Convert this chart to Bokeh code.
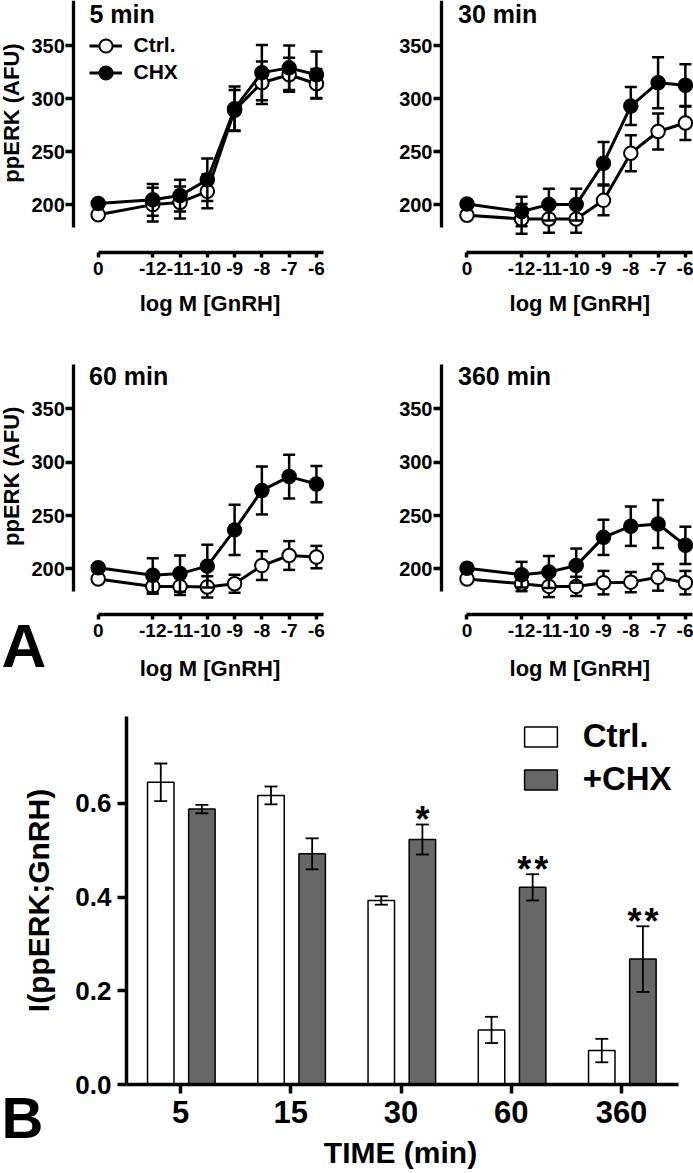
import numpy as np
from bokeh.plotting import figure
from bokeh.layouts import column, row
from bokeh.models import (Range1d, FixedTicker, Label, Legend, LegendItem, LinearAxis,
                          ColumnDataSource, PrintfTickFormatter)
from bokeh.embed import file_html
from bokeh.resources import INLINE

# ---------------- data: panel A (ppERK dose-response) ----------------
conc_labels = ["0", "-12", "-11", "-10", "-9", "-8", "-7", "-6"]
conc_x = [-14, -12, -11, -10, -9, -8, -7, -6]   # "0" (no GnRH) drawn left of -12

ctrl_5 = [190.5, 200, 202, 212.5, 289, 315, 322.5, 314]
ctrl_5_err = [0, 16, 15, 16, 19, 20, 16, 14]
chx_5 = [201, 204.5, 208.5, 223.5, 290.5, 324.5, 329, 322.5]
chx_5_err = [0, 15, 15, 20, 21, 26, 21, 22]

ctrl_30 = [190, 186.5, 186.5, 186.5, 204, 248.5, 269, 277]
ctrl_30_err = [0, 14, 13, 13, 14, 17, 17, 16]
chx_30 = [200.5, 193.5, 200, 200, 239, 293, 315, 312.5]
chx_30_err = [0, 14, 15, 15, 20, 18, 24, 20]

ctrl_60 = [190.5, 183.5, 183.5, 183, 186, 203, 212.5, 211]
ctrl_60_err = [0, 7, 8, 10, 8.5, 13.5, 13.5, 10.5]
chx_60 = [201, 194, 195.5, 202.5, 236.5, 273.5, 286.5, 279.5]
chx_60_err = [0, 16, 17, 20, 23.5, 22.5, 20.5, 17]

ctrl_360 = [190.5, 186, 183.5, 183.5, 187, 187.5, 192, 187]
ctrl_360_err = [0, 7, 10, 9, 11, 9.5, 12.5, 11]
chx_360 = [200.5, 194.5, 197, 203, 229.5, 240, 242, 222]
chx_360_err = [0, 12, 15, 16, 16.5, 18.5, 22.5, 17.5]

a_yticks = [200, 250, 300, 350]

# ---------------- data: panel B (information index) ----------------
times = ["5", "15", "30", "60", "360"]
ctrl_idx = [0.645, 0.617, 0.393, 0.117, 0.073]
ctrl_idx_err = [0.040, 0.019, 0.009, 0.028, 0.025]
chx_idx = [0.588, 0.4925, 0.523, 0.421, 0.268]
chx_idx_err = [0.009, 0.033, 0.032, 0.028, 0.070]
sig = ["", "", "*", "**", "**"]
b_yticks = [0.0, 0.2, 0.4, 0.6]

FONT = "Liberation Sans"


def style_axis(ax, size, tick_out, lw, standoff):
    ax.axis_line_width = lw
    ax.axis_line_color = "black"
    ax.major_tick_line_width = lw
    ax.major_tick_line_color = "black"
    ax.major_tick_out = tick_out
    ax.major_tick_in = 0
    ax.minor_tick_line_color = None
    ax.major_label_text_font = FONT
    ax.major_label_text_font_style = "bold"
    ax.major_label_text_font_size = size
    ax.major_label_text_color = "black"
    ax.major_label_standoff = standoff


def add_label(p, x, y, text, fs, vertical=False, align="left"):
    """(x, y): canvas position of the text baseline point; the label box is
    anchored at its middle, so shift by the middle-to-baseline distance."""
    d = 0.37 * fs
    if vertical:
        x, angle = x - d, np.pi / 2
    else:
        y, angle = y - d, 0.0
    p.add_layout(Label(x=x, y=y, x_units="canvas", y_units="canvas", text=text,
                       angle=angle, text_align=align, text_baseline="middle",
                       text_font=FONT, text_font_style="bold",
                       text_font_size=f"{fs}px", text_color="black"))


def base_fig(width, height, xr, yr):
    p = figure(width=width, height=height, x_range=Range1d(*xr), y_range=Range1d(*yr),
               x_axis_location=None, y_axis_location=None,
               output_backend="svg", toolbar_location=None, min_border=0)
    p.outline_line_color = None
    p.grid.visible = False
    p.background_fill_color = "white"
    p.border_fill_color = "white"
    return p


def series(p, y, err, fill):
    src = ColumnDataSource(dict(x=conc_x, y=y,
                                lo=[a - b for a, b in zip(y, err)],
                                hi=[a + b for a, b in zip(y, err)]))
    ln = p.line("x", "y", source=src, line_color="black", line_width=3)
    p.segment("x", "lo", "x", "hi", source=src, line_color="black", line_width=2.5)
    p.scatter("x", "lo", source=src, marker="dash", size=12, line_color="black", line_width=2.5)
    p.scatter("x", "hi", source=src, marker="dash", size=12, line_color="black", line_width=2.5)
    sc = p.scatter("x", "y", source=src, marker="circle", size=13.5,
                   fill_color=fill, line_color="black", line_width=2)
    return ln, sc


def panel(ctrl, ctrl_err, chx, chx_err, title, width, height, xr, yr,
          yaxis_x, ybounds, xaxis_y, title_xy, xlab_xy, ylab_xy=None, legend_h=None):
    p = base_fig(width, height, xr, yr)

    xa = LinearAxis(fixed_location=xaxis_y, ticker=FixedTicker(ticks=conc_x),
                    bounds=(-14, -5.75))
    xa.major_label_overrides = {float(v): t for v, t in zip(conc_x, conc_labels)}
    style_axis(xa, "19px", 5, 3.5, 5)
    p.add_layout(xa, "below")

    ya = LinearAxis(fixed_location=yaxis_x, ticker=FixedTicker(ticks=a_yticks), bounds=ybounds)
    style_axis(ya, "20px", 8, 3.3, 1)
    p.add_layout(ya, "left")

    lc, sc_c = series(p, ctrl, ctrl_err, "white")
    lh, sc_h = series(p, chx, chx_err, "black")

    if legend_h is not None:
        for lab, rends, ly in (("Ctrl.", [lc, sc_c], legend_h), ("CHX", [lh, sc_h], legend_h - 27)):
            lg = Legend(items=[LegendItem(label=lab, renderers=rends)], location=(88.5, ly),
                        glyph_width=33, glyph_height=33, label_standoff=12,
                        padding=0, margin=0, border_line_color=None,
                        background_fill_alpha=0, label_text_font=FONT,
                        label_text_font_style="bold", label_text_font_size="21px",
                        label_text_color="black")
            p.add_layout(lg)

    add_label(p, title_xy[0], title_xy[1], title, 25)
    add_label(p, xlab_xy[0], xlab_xy[1], "log M [GnRH]", 22, align="center")
    if ylab_xy is not None:
        add_label(p, ylab_xy[0], ylab_xy[1], "ppERK (AFU)", 22, vertical=True, align="center")
    return p


XR_L = (-17.581, -3.798)
XR_R = (-17.315, -5.703)
YR_1 = (56.7, 392.55)
YR_2 = (68.95, 399.16)

p1 = panel(ctrl_5, ctrl_5_err, chx_5, chx_5_err, "5 min", 376, 356, XR_L, YR_1,
           -14.894, (178.4, 392.55), 155.28, (89, 22.5), (209.5, 311.5),
           ylab_xy=(19.5, 112.5), legend_h=294.5)
p2 = panel(ctrl_30, ctrl_30_err, chx_30, chx_30_err, "30 min", 317, 356, XR_R, YR_1,
           -14.934, (178.4, 392.55), 155.28, (81.5, 22.5), (203.3, 311.5))
p3 = panel(ctrl_60, ctrl_60_err, chx_60, chx_60_err, "60 min", 376, 352, XR_L, YR_2,
           -14.894, (178.7, 391.4), 157.4, (88.5, 29), (209.5, 320),
           ylab_xy=(19.5, 119.8))
p4 = panel(ctrl_360, ctrl_360_err, chx_360, chx_360_err, "360 min", 317, 352, XR_R, YR_2,
           -14.934, (178.7, 391.4), 157.4, (81.5, 29), (203.3, 320))
add_label(p3, 1, 312, "A", 62)

# ---------------- panel B ----------------
xpos = np.arange(len(times))
p5 = base_fig(693, 465, (-1.6327, 4.653), (-0.1891, 0.8023))

bsrc = ColumnDataSource(dict(
    xc=xpos - 0.179, xh=xpos + 0.194, ctrl=ctrl_idx, chx=chx_idx,
    clo=[a - b for a, b in zip(ctrl_idx, ctrl_idx_err)],
    chi=[a + b for a, b in zip(ctrl_idx, ctrl_idx_err)],
    hlo=[a - b for a, b in zip(chx_idx, chx_idx_err)],
    hhi=[a + b for a, b in zip(chx_idx, chx_idx_err)]))

bc = p5.vbar(x="xc", top="ctrl", bottom=0, width=0.24, source=bsrc,
             fill_color="white", line_color="black", line_width=1.5)
bh = p5.vbar(x="xh", top="chx", bottom=0, width=0.24, source=bsrc,
             fill_color="#676767", line_color="black", line_width=1.5)
for xk, lo, hi in (("xc", "clo", "chi"), ("xh", "hlo", "hhi")):
    p5.segment(xk, lo, xk, hi, source=bsrc, line_color="black", line_width=1.8)
    p5.scatter(xk, lo, source=bsrc, marker="dash", size=13, line_color="black", line_width=1.8)
    p5.scatter(xk, hi, source=bsrc, marker="dash", size=13, line_color="black", line_width=1.8)

sx, sy, soff = [], [], []
for i, s in enumerate(sig):
    n = len(s)
    for k in range(n):
        sx.append(xpos[i] + 0.194)
        sy.append(chx_idx[i] + chx_idx_err[i])
        soff.append((k - (n - 1) / 2) * 17)
ssrc = ColumnDataSource(dict(x=sx, y=sy, t=["*"] * len(sx), off=soff))
p5.text("x", "y", text="t", x_offset="off", y_offset=-5, source=ssrc,
        text_align="center", text_baseline="alphabetic", text_font_size="36px",
        text_font_style="bold", text_color="black")

bx = LinearAxis(fixed_location=0, ticker=FixedTicker(ticks=list(xpos)), bounds=(-0.4898, 4.517))
bx.major_label_overrides = {float(i): t for i, t in zip(xpos, times)}
style_axis(bx, "31px", 9, 3.5, 7)
p5.add_layout(bx, "below")
by = LinearAxis(fixed_location=-0.4898, ticker=FixedTicker(ticks=b_yticks),
                formatter=PrintfTickFormatter(format="%.1f"), bounds=(0, 0.785))
style_axis(by, "26px", 9, 3.5, 6)
p5.add_layout(by, "left")

bleg = Legend(items=[LegendItem(label="Ctrl.", renderers=[bc]),
                     LegendItem(label="+CHX", renderers=[bh])],
              location=(519.7, 375), glyph_width=41, glyph_height=25, label_standoff=22,
              spacing=5, padding=0, margin=0, border_line_color=None,
              background_fill_alpha=0, label_text_font=FONT, label_text_font_style="bold",
              label_text_font_size="33px", label_text_color="black")
p5.add_layout(bleg)

add_label(p5, 49, 192, "I(ppERK;GnRH)", 30, vertical=True, align="center")
add_label(p5, 400, 454.7, "TIME (min)", 30, align="center")
add_label(p5, 1, 430.3, "B", 58)

layout = column(row(p1, p2), row(p3, p4), p5)
open("out.html", "w").write(file_html(layout, INLINE))
